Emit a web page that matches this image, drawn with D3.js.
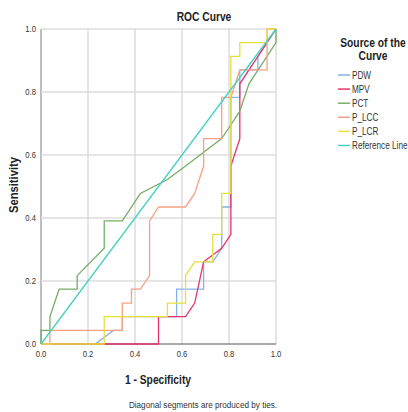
<!DOCTYPE html>
<html>
<head>
<meta charset="utf-8">
<script src="https://cdn.jsdelivr.net/npm/d3@7"></script>
<style>
  body { margin: 0; background: #fff; }
  svg text { font-family: "Liberation Sans", Arial, sans-serif; }
</style>
</head>
<body>
<div id="chart"></div>
<script>
// ROC points (1 - specificity, sensitivity)
const pdw = [[0,0],[0.231,0],[0.308,0.043],[0.346,0.043],[0.346,0.087],[0.577,0.087],[0.577,0.174],
  [0.692,0.174],[0.692,0.261],[0.731,0.261],[0.769,0.304],[0.769,0.435],[0.808,0.435],[0.808,0.783],
  [0.846,0.783],[0.846,0.870],[0.923,0.870],[0.923,0.913],[1,1]];
const mpv = [[0,0],[0.5,0],[0.5,0.087],[0.615,0.087],[0.654,0.130],[0.692,0.261],[0.769,0.304],
  [0.808,0.348],[0.808,0.565],[0.846,0.652],[0.846,0.826],[1,1]];
const pct = [[0,0],[0,0.043],[0.038,0.043],[0.038,0.087],[0.077,0.174],[0.154,0.174],[0.154,0.217],
  [0.269,0.304],[0.269,0.391],[0.346,0.391],[0.423,0.478],[0.538,0.522],[0.615,0.565],[0.692,0.609],
  [0.769,0.652],[0.808,0.696],[0.846,0.739],[0.885,0.826],[1,0.957],[1,1]];
const plcc = [[0,0],[0.038,0],[0.038,0.043],[0.346,0.043],[0.346,0.130],[0.385,0.130],[0.385,0.174],
  [0.423,0.174],[0.462,0.217],[0.462,0.391],[0.5,0.435],[0.615,0.435],[0.654,0.478],[0.692,0.565],
  [0.692,0.652],[0.769,0.652],[0.769,0.783],[0.808,0.783],[0.846,0.870],[0.962,0.870],[0.962,1],[1,1]];
const plcr = [[0,0],[0.269,0],[0.269,0.087],[0.538,0.087],[0.538,0.130],[0.615,0.130],[0.615,0.217],
  [0.654,0.261],[0.731,0.261],[0.731,0.348],[0.769,0.348],[0.769,0.478],[0.808,0.478],[0.808,0.913],
  [0.846,0.913],[0.846,0.957],[0.962,0.957],[0.962,1],[1,1]];
const refLine = [[0,0],[1,1]];

const seriesNames = ['PDW', 'MPV', 'PCT', 'P_LCC', 'P_LCR', 'Reference Line'];
const seriesData = [pdw, mpv, pct, plcc, plcr, refLine];
const seriesColors = ['#86b1ea', '#e4336a', '#76ad66', '#f7a184', '#e6df3c', '#44d1c3'];
const tickValues = [0, 0.2, 0.4, 0.6, 0.8, 1.0];

const width = 408, height = 412;
const plot = { left: 41, right: 276, top: 29, bottom: 344 };

const svg = d3.select('#chart').append('svg')
  .attr('width', width)
  .attr('height', height);

const x = d3.scaleLinear().domain([0, 1]).range([plot.left, plot.right]);
const y = d3.scaleLinear().domain([0, 1]).range([plot.bottom, plot.top]);

// text squeezed horizontally, the picture uses a narrow font
function narrow(parent, tx, ty, str, size, opts) {
  opts = opts || {};
  const sx = opts.sx || 0.82;
  return parent.append('text')
    .attr('transform', `translate(${tx},${ty}) ${opts.rotate ? 'rotate(-90) ' : ''}scale(${sx},1)`)
    .attr('text-anchor', opts.anchor || 'middle')
    .attr('font-size', size)
    .attr('font-weight', opts.bold ? 'bold' : 'normal')
    .attr('fill', opts.fill || '#222')
    .text(str);
}

// grid
svg.append('g').selectAll('line')
  .data(tickValues)
  .enter().append('line')
  .attr('x1', d => x(d)).attr('x2', d => x(d))
  .attr('y1', plot.top).attr('y2', plot.bottom)
  .attr('stroke', d => d === 0 ? '#a8a8a8' : '#dcdcdc')
  .attr('stroke-width', 1.5);

svg.append('g').selectAll('line')
  .data(tickValues)
  .enter().append('line')
  .attr('x1', plot.left).attr('x2', plot.right)
  .attr('y1', d => y(d)).attr('y2', d => y(d))
  .attr('stroke', d => d === 0 ? '#8c8c8c' : '#dcdcdc')
  .attr('stroke-width', 1.5);

// tick labels
const fmt = d3.format('.1f');
const xTicks = svg.append('g');
tickValues.forEach(v => narrow(xTicks, x(v), plot.bottom + 13, fmt(v), 9, { fill: '#333', sx: 0.85 }));
const yTicks = svg.append('g');
tickValues.forEach(v => narrow(yTicks, plot.left - 5, y(v) + 3, fmt(v), 9, { fill: '#333', sx: 0.85, anchor: 'end' }));

// curves
const line = d3.line().x(d => x(d[0])).y(d => y(d[1]));
svg.append('g').selectAll('path')
  .data(seriesData)
  .enter().append('path')
  .attr('d', line)
  .attr('fill', 'none')
  .attr('stroke', (d, i) => seriesColors[i])
  .attr('stroke-width', 1.3);

// titles
narrow(svg, 204, 21, 'ROC Curve', 12.5, { bold: true });
narrow(svg, 18, 185, 'Sensitivity', 12.5, { bold: true, rotate: true, sx: 0.9 });
narrow(svg, 158, 384, '1 - Specificity', 12.5, { bold: true });
narrow(svg, 203, 408, 'Diagonal segments are produced by ties.', 9.5, { fill: '#333', sx: 0.86 });

// legend
const legend = svg.append('g');
narrow(legend, 373, 47, 'Source of the', 12.5, { bold: true });
narrow(legend, 373, 60, 'Curve', 12.5, { bold: true });

const item = legend.selectAll('g.item')
  .data(seriesNames)
  .enter().append('g')
  .attr('class', 'item')
  .attr('transform', (d, i) => `translate(338,${75 + i * 14.1})`);
item.append('line')
  .attr('x1', 0).attr('x2', 12)
  .attr('stroke', (d, i) => seriesColors[i])
  .attr('stroke-width', 1.5);
item.each(function(d) {
  narrow(d3.select(this), 14, 3.5, d, 10, { fill: '#333', anchor: 'start', sx: 0.82 });
});
</script>
</body>
</html>
